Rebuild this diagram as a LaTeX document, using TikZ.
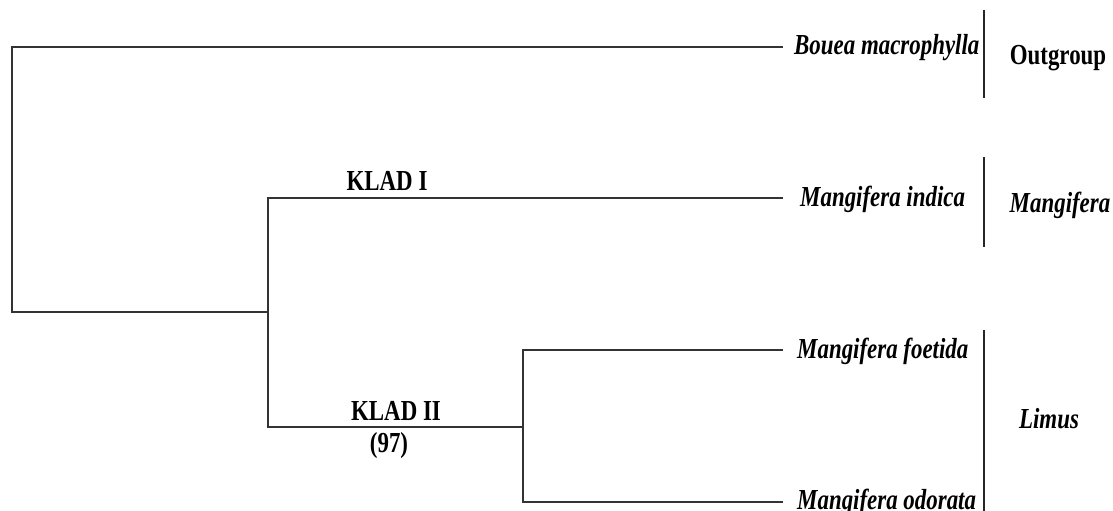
\documentclass[tikz,border=0pt]{standalone}
\usepackage{fontspec}
\setmainfont{Liberation Serif}
\newfontfamily\tnr[FakeStretch=0.79]{Liberation Serif}
\begin{document}
\begin{tikzpicture}[x=1pt,y=-1pt,
  br/.style={line width=2.6pt,draw=black!80,line cap=rect},
  bar/.style={line width=1.6pt,draw=black!85},
  sp/.style={font=\tnr\fontsize{29}{32}\selectfont\bfseries\itshape,inner sep=0pt,anchor=base west},
  grp/.style={font=\tnr\fontsize{29}{32}\selectfont\bfseries,inner sep=0pt,anchor=base},
  grpi/.style={grp,font=\tnr\fontsize{29}{32}\selectfont\bfseries\itshape},
  klad/.style={font=\tnr\fontsize{29}{32}\selectfont\bfseries,inner sep=0pt,anchor=base}]
\useasboundingbox (0,0) rectangle (1113,511);
% internal nodes
\coordinate (root) at (12,312);
\coordinate (rtop) at (12,47);
\coordinate (n1) at (268,312);
\coordinate (n1t) at (268,198);
\coordinate (n1b) at (268,427);
\coordinate (n2) at (523,427);
\coordinate (n2t) at (523,350);
\coordinate (n2b) at (523,502);
% leaves
\coordinate (l1) at (782,47);
\coordinate (l2) at (782,198);
\coordinate (l3) at (782,350);
\coordinate (l4) at (782,502);
% branches
\draw[br] (l1) -- (rtop) -- (root) -- (n1);
\draw[br] (l2) -- (n1t) -- (n1b) -- (n2);
\draw[br] (l3) -- (n2t) -- (n2b) -- (l4);
% species labels
\node[sp] (t1) at (794,55) {Bouea macrophylla};
\node[sp] (t2) at (800,206) {Mangifera indica};
\node[sp] (t3) at (797,358) {Mangifera foetida};
\node[sp] (t4) at (797,509) {Mangifera odorata};
% clade labels
\node[klad] (k1) at (387,190) {KLAD I};
\node[klad] (k2) at (396,420) {KLAD II};
\node[klad] (k2b) at (389,452) {(97)};
% group bars
\draw[bar] (984,10) -- (984,98);
\draw[bar] (984,157) -- (984,247);
\draw[bar] (984,330) -- (984,511);
\node[grp] (g1) at (1058,64) {Outgroup};
\node[grpi] (g2) at (1060,212) {Mangifera};
\node[grpi] (g3) at (1049,428) {Limus};
\end{tikzpicture}
\end{document}
